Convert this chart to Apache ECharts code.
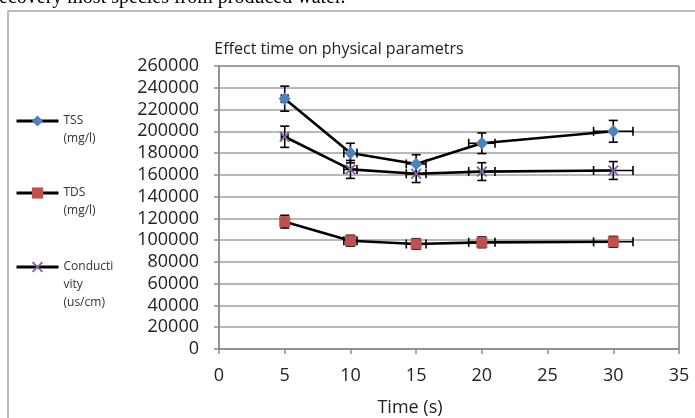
<!DOCTYPE html>
<html><head><meta charset="utf-8">
<script src="https://cdn.jsdelivr.net/npm/echarts@6/dist/echarts.min.js"></script>
<style>html,body{margin:0;padding:0;background:#fff}#c{width:695px;height:418px}</style>
</head><body><div id="c"></div>
<script>
const times = [5, 10, 15, 20, 30];
const tss = [230000, 180000, 170000, 189000, 200000];
const tds = [117000, 99500, 96500, 98000, 98500];
const cond = [195000, 165000, 161000, 163000, 164000];
const tssErr = [11500, 9000, 8500, 9450, 10000];
const tdsErr = [5850, 4975, 4825, 4900, 4925];
const condErr = [9750, 8250, 8050, 8150, 8200];
const timeErr = [0.25, 0.5, 0.75, 1, 1.5];
const seriesNames = ['TSS (mg/l)', 'TDS (mg/l)', 'Conductivity (us/cm)'];
const legendLabels = ['\nTSS\n(mg/l)', '\nTDS\n(mg/l)', '\n\nConducti\nvity\n(us/cm)'];

const chart = echarts.init(document.getElementById('c'), null, {renderer: 'canvas'});
const xMark = 'path://M0,1.2L1.2,0L5,3.8L8.8,0L10,1.2L6.2,5L10,8.8L8.8,10L5,6.2L1.2,10L0,8.8L3.8,5Z';

function pts(ys) { return times.map((t, i) => [t, ys[i]]); }
function errPts(ys, es) { return times.map((t, i) => [t, ys[i], timeErr[i], es[i]]); }

function renderErr(params, api) {
  const x = api.value(0), y = api.value(1), xe = api.value(2), ye = api.value(3);
  const top = api.coord([x, y + ye]), bot = api.coord([x, y - ye]);
  const l = api.coord([x - xe, y]), r = api.coord([x + xe, y]);
  const cap = 4.5;
  const st = {stroke: '#000', lineWidth: 1.6};
  const ln = (x1, y1, x2, y2) => ({type: 'line', shape: {x1, y1, x2, y2}, style: st});
  return {type: 'group', children: [
    ln(top[0], top[1], bot[0], bot[1]),
    ln(top[0] - cap, top[1], top[0] + cap, top[1]),
    ln(bot[0] - cap, bot[1], bot[0] + cap, bot[1]),
    ln(l[0], l[1], r[0], r[1]),
    ln(l[0], l[1] - cap, l[0], l[1] + cap),
    ln(r[0], r[1] - cap, r[0], r[1] + cap)
  ]};
}

const font = 'Open Sans';
const legendTops = [94, 166, 222];
const colors = ['#4f81bd', '#c0504d', '#8064a2'];
const symbols = ['diamond', 'rect', xMark];
const symSizes = [[12, 13], 11, 11];

const option = {
  animation: false,
  backgroundColor: '#fff',
  title: {
    text: 'Effect time on physical parametrs',
    left: 334, top: 36, textAlign: 'center',
    textStyle: {fontFamily: font, fontSize: 16, fontWeight: 'normal', color: '#222'}
  },
  legend: seriesNames.map((n, i) => ({
    data: [n], orient: 'vertical', left: 15, top: legendTops[i], padding: 0,
    itemWidth: 42, itemHeight: 14,
    formatter: () => legendLabels[i],
    lineStyle: {width: 3, color: '#000'},
    textStyle: {fontFamily: font, fontSize: 12, lineHeight: 18, color: '#333'},
    selectedMode: false
  })),
  grid: {left: 219, right: 16, top: 66, bottom: 69, containLabel: false, outerBoundsMode: 'none',
    show: true, borderColor: '#404040', borderWidth: 1},
  xAxis: {
    type: 'value', min: 0, max: 35, interval: 5,
    axisLine: {show: true, onZero: false, lineStyle: {color: '#8c8c8c', width: 1.5}},
    axisTick: {show: true, length: 5, lineStyle: {color: '#8c8c8c', width: 1.5}},
    splitLine: {show: false},
    axisLabel: {fontFamily: font, fontSize: 18, color: '#222', margin: 18}
  },
  yAxis: {
    type: 'value', min: 0, max: 260000, interval: 20000,
    axisLine: {show: true, lineStyle: {color: '#8c8c8c', width: 1.5}},
    axisTick: {show: true, length: 5, lineStyle: {color: '#8c8c8c', width: 1.5}},
    splitLine: {show: true, lineStyle: {color: '#a0a0a0', width: 1.5}},
    axisLabel: {fontFamily: font, fontSize: 18, color: '#222', margin: 20, formatter: v => String(v)}
  },
  graphic: [
    {type: 'rect', shape: {x: 8, y: 11, width: 720, height: 440}, style: {fill: 'none', stroke: '#a6a6a6', lineWidth: 1.5}, z: -10},
    {type: 'text', x: -1, y: 8, style: {text: 'ecovery most species from produced water.', fontFamily: 'Liberation Serif', fontSize: 20, fill: '#000', verticalAlign: 'bottom'}},
    {type: 'text', x: 410, y: 408, style: {text: 'Time (s)', fontFamily: font, fontSize: 18, fill: '#222', align: 'center', verticalAlign: 'middle'}}
  ],
  series: []
};

const allVals = [tss, tds, cond];
const allErr = [tssErr, tdsErr, condErr];
allVals.forEach((v, i) => {
  option.series.push({
    type: 'custom', name: seriesNames[i] + ' err', renderItem: renderErr,
    data: errPts(v, allErr[i]), z: 1, silent: true,
    encode: {x: 0, y: 1}
  });
});
allVals.forEach((v, i) => {
  option.series.push({
    type: 'line', name: seriesNames[i], data: pts(v), z: 3,
    symbol: symbols[i], symbolSize: symSizes[i], showAllSymbol: true,
    lineStyle: {color: '#000', width: 2.6},
    itemStyle: {color: colors[i], borderWidth: 0},
    emphasis: {disabled: true}
  });
});
chart.setOption(option);
</script></body></html>
